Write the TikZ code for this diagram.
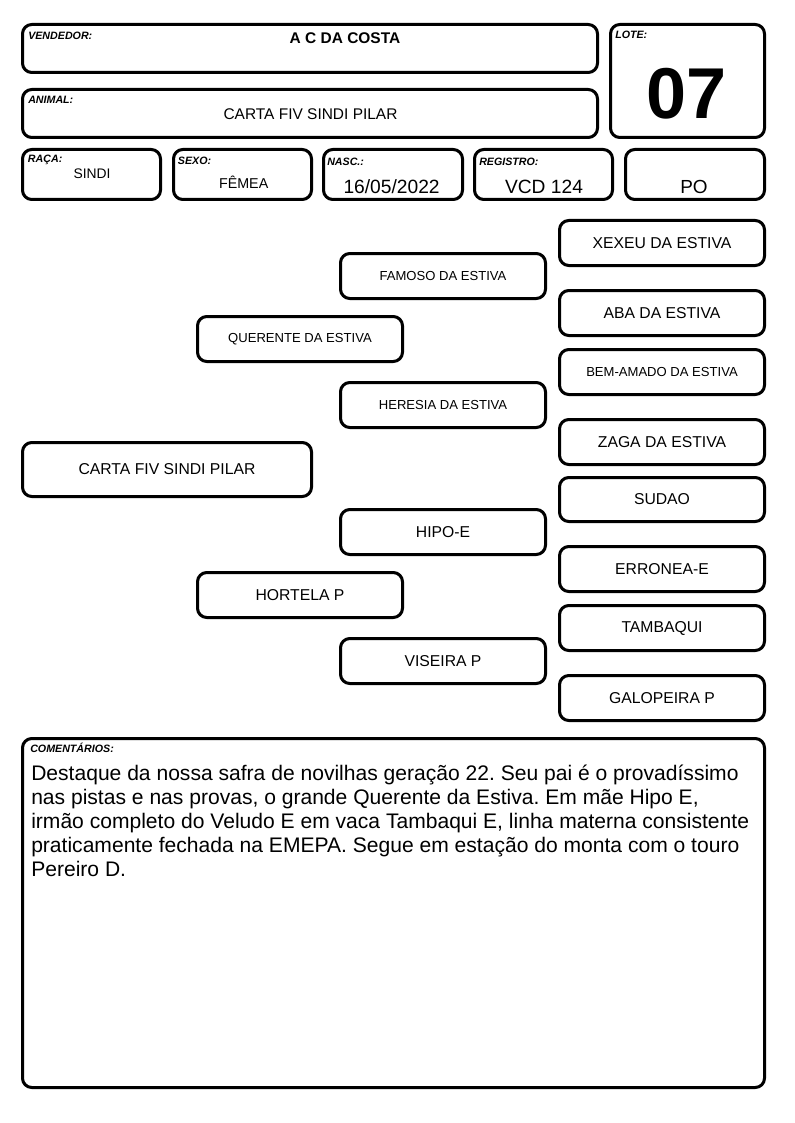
\documentclass[tikz,border=0pt]{standalone}
\usepackage{fontspec}
\setmainfont{Liberation Sans}
\frenchspacing
\tikzset{
  card/.style={draw, line width=2.25pt, rounded corners=7pt, inner sep=0pt},
  lab/.style={font=\fontsize{8}{9}\selectfont\bfseries\itshape, inner sep=0pt, anchor=base west},
  val/.style={inner sep=0pt, anchor=base},
  ped/.style={card, font=\fontsize{11.8}{14}\selectfont},
  peds/.style={card, font=\fontsize{9.8}{12}\selectfont},
}
% \cardbox{style}{name}{x1}{y1}{x2}{y2}{text}  (coordinates in px)
\newcommand\cardbox[7]{%
  \node[#1, minimum width={(#5-#3)*0.75pt}, minimum height={(#6-#4)*0.75pt}]
    (#2) at ({(#3+#5)/2},{(#4+#6)/2}) {#7};}
\begin{document}
\begin{tikzpicture}[x=0.75pt,y=-0.75pt]
\useasboundingbox (0,0) rectangle (794,1123);
% header boxes
\cardbox{card}{vend}{22.5}{24.5}{597.5}{72.5}{}
\cardbox{card}{anim}{22.5}{89.5}{597.5}{137.5}{}
\cardbox{card}{lote}{610.5}{24.5}{764.5}{137.5}{}
\cardbox{card}{raca}{22.5}{149.5}{160.5}{199.5}{}
\cardbox{card}{sexo}{173.5}{149.5}{311.5}{199.5}{}
\cardbox{card}{nasc}{323.5}{149.5}{462.5}{199.5}{}
\cardbox{card}{reg}{474.5}{149.5}{612.5}{199.5}{}
\cardbox{card}{po}{625.5}{149.5}{764.5}{199.5}{}
% labels
\node[lab] (lvend) at (28,39.3) {VENDEDOR:};
\node[lab] (lanim) at (28,103.3) {ANIMAL:};
\node[lab] (llote) at (615,38.3) {LOTE:};
\node[lab] (lraca) at (27.7,162.7) {RAÇA:};
\node[lab] (lsexo) at (177.7,164.3) {SEXO:};
\node[lab] (lnasc) at (327,165.5) {NASC.:};
\node[lab] (lreg) at (479,165.5) {REGISTRO:};
% values
\node[val, font=\fontsize{11.6}{14}\selectfont\bfseries] (vvend) at (345,43.3) {A C DA COSTA};
\node[val, font=\fontsize{11.6}{14}\selectfont] (vanim) at (310.5,120) {CARTA FIV SINDI PILAR};
\node[val, font=\fontsize{54}{60}\selectfont\bfseries] (vlote) at (687,118.3) {07};
\node[val, font=\fontsize{10.4}{12}\selectfont] (vraca) at (92,178.3) {SINDI};
\node[val, font=\fontsize{10.7}{12}\selectfont] (vsexo) at (243.7,188.3) {FÊMEA};
\node[val, font=\fontsize{14.4}{16}\selectfont] (vnasc) at (391.6,193.3) {16/05/2022};
\node[val, font=\fontsize{14.4}{16}\selectfont] (vreg) at (544,193.3) {VCD 124};
\node[val, font=\fontsize{14.2}{16}\selectfont] (vpo) at (694,193.3) {PO};
% pedigree
\cardbox{ped}{carta}{22.5}{442.5}{311.5}{496.5}{CARTA FIV SINDI PILAR}
\cardbox{peds}{quer}{197.5}{316.5}{402.5}{361.5}{QUERENTE DA ESTIVA}
\cardbox{ped}{hort}{197.5}{572.5}{402.5}{617.5}{HORTELA P}
\cardbox{peds}{famo}{340.5}{253.5}{545.5}{298.5}{FAMOSO DA ESTIVA}
\cardbox{peds}{here}{340.5}{382.5}{545.5}{427.5}{HERESIA DA ESTIVA}
\cardbox{ped}{hipo}{340.5}{509.5}{545.5}{554.5}{HIPO-E}
\cardbox{ped}{vise}{340.5}{638.5}{545.5}{683.5}{VISEIRA P}
\cardbox{ped}{xexeu}{559.5}{220.5}{764.5}{265.5}{XEXEU DA ESTIVA}
\cardbox{ped}{aba}{559.5}{290.5}{764.5}{335.5}{ABA DA ESTIVA}
\cardbox{peds}{bem}{559.5}{349.5}{764.5}{394.5}{BEM-AMADO DA ESTIVA}
\cardbox{ped}{zaga}{559.5}{419.5}{764.5}{464.5}{ZAGA DA ESTIVA}
\cardbox{ped}{sudao}{559.5}{477.5}{764.5}{521.5}{SUDAO}
\cardbox{ped}{erro}{559.5}{546.5}{764.5}{591.5}{ERRONEA-E}
\cardbox{ped}{tamb}{559.5}{605.5}{764.5}{650.5}{TAMBAQUI}
\cardbox{ped}{galo}{559.5}{675.5}{764.5}{720.5}{GALOPEIRA P}
% comments
\cardbox{card}{com}{22.5}{738.5}{764.5}{1087.5}{}
\node[lab] (lcom) at (30,752.3) {COMENTÁRIOS:};
\node[inner sep=0pt, anchor=base west, align=left, font=\fontsize{15.8}{18}\selectfont] (tcom) at (31,876)
{Destaque da nossa safra de novilhas geração 22. Seu pai é o provadíssimo\\
nas pistas e nas provas, o grande Querente da Estiva. Em mãe Hipo E,\\
irmão completo do Veludo E em vaca Tambaqui E, linha materna consistente\\
praticamente fechada na EMEPA. Segue em estação do monta com o touro\\
Pereiro D.};
\end{tikzpicture}
\end{document}
